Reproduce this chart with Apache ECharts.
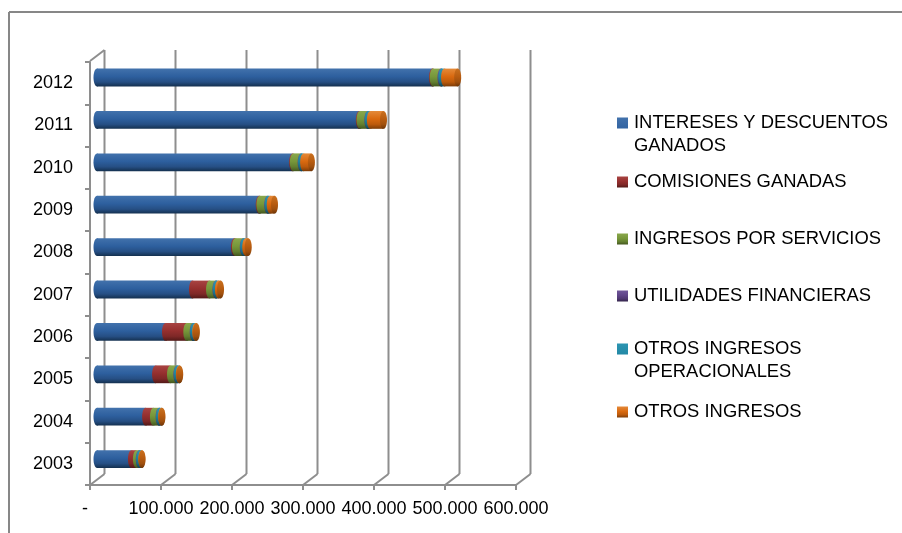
<!DOCTYPE html>
<html>
<head>
<meta charset="utf-8">
<style>html,body{margin:0;padding:0;background:#fff}#chart{width:902px;height:533px}</style>
<script src="https://cdn.jsdelivr.net/npm/echarts@6/dist/echarts.min.js"></script>
</head>
<body>
<div id="chart"></div>
<script>
// Data
const years = ['2003', '2004', '2005', '2006', '2007', '2008', '2009', '2010', '2011', '2012'];
const intereses = [48500, 68500, 82500, 96500, 134500, 193500, 228500, 275500, 369500, 472500];
const comisiones = [7000, 11000, 21000, 30000, 24000, 1500, 1000, 1000, 1000, 1000];
const servicios = [4000, 8000, 9000, 9000, 9000, 11000, 11000, 11000, 11000, 11000];
const utilidades = [500, 500, 500, 500, 500, 500, 500, 500, 500, 1000];
const operacionales = [3000, 3000, 3000, 3000, 3000, 3000, 3000, 3000, 3000, 4000];
const otros = [500, 500, 500, 1000, 3000, 3500, 6000, 11000, 18500, 18500];
const xTicks = [0, 100000, 200000, 300000, 400000, 500000, 600000];

const seriesNames = [
  'INTERESES Y DESCUENTOS\nGANADOS',
  'COMISIONES GANADAS',
  'INGRESOS POR SERVICIOS',
  'UTILIDADES FINANCIERAS',
  'OTROS INGRESOS\nOPERACIONALES',
  'OTROS INGRESOS'
];
const seriesValues = [intereses, comisiones, servicios, utilidades, operacionales, otros];

// Styles: top, middle, lower, bottom of each cylinder
const ramps = [
  ['#4272ac', '#2d5f9e', '#264f84', '#14304f'],
  ['#a84442', '#952f2e', '#7e2827', '#511917'],
  ['#8aa84c', '#77973a', '#637f30', '#43561f'],
  ['#70579a', '#5f4488', '#4f3871', '#33244a'],
  ['#2c95b2', '#1f83a0', '#1a6d86', '#104657'],
  ['#e48a3a', '#d9690f', '#bc5a0c', '#7c3c08']
];
const capRamp = ['#c9701f', '#b85c10', '#a0500e', '#6e3507'];
const legendTops = [111.5, 170.5, 227.5, 284.5, 337.5, 400.5];
const axisGrey = '#8e8e8e';
const font = '"Liberation Sans", Arial, sans-serif';
const depthX = 14.5;
const depthY = -11;
const capRx = 3.5;

const gradient = ramp => new echarts.graphic.LinearGradient(0, 0, 0, 1, [
  { offset: 0, color: ramp[0] },
  { offset: 0.45, color: ramp[1] },
  { offset: 0.75, color: ramp[2] },
  { offset: 1, color: ramp[3] }
]);

// Running start/end of every stacked segment
const running = years.map(() => 0);
const segments = seriesValues.map(values => values.map((v, i) => {
  const start = running[i];
  running[i] += v;
  return [start, running[i], i];
}));

const renderCylinder = (seriesIndex, params, api) => {
  const a = api.coord([api.value(0), api.value(2)]);
  const b = api.coord([api.value(1), api.value(2)]);
  const h = api.size([0, 1])[1] * 0.42;
  const top = a[1] - h / 2;
  const fill = gradient(ramps[seriesIndex]);
  const children = [
    { type: 'rect', shape: { x: a[0], y: top, width: b[0] - a[0], height: h }, style: { fill } },
    { type: 'ellipse', shape: { cx: a[0], cy: a[1], rx: capRx, ry: h / 2 }, style: { fill } }
  ];
  if (seriesIndex === seriesValues.length - 1) {
    children.push({
      type: 'ellipse',
      shape: { cx: b[0], cy: a[1], rx: capRx, ry: h / 2 },
      style: { fill: gradient(capRamp) }
    });
  }
  return { type: 'group', children };
};

// Back wall lines and the floor diagonals
const renderWall = (params, api) => {
  const low = api.coord([api.value(0), 0]);
  const high = api.coord([api.value(0), 1]);
  const style = { stroke: axisGrey, lineWidth: 2 };
  const children = [
    { type: 'line', shape: { x1: low[0], y1: low[1], x2: high[0], y2: high[1] }, style },
    { type: 'line', shape: { x1: low[0], y1: low[1], x2: low[0] - depthX, y2: low[1] - depthY }, style }
  ];
  if (params.dataIndex === 0) {
    children.push({ type: 'line', shape: { x1: high[0], y1: high[1], x2: high[0] - depthX, y2: high[1] - depthY }, style });
  }
  return { type: 'group', children };
};

const chart = echarts.init(document.getElementById('chart'), null, { renderer: 'canvas' });

chart.setOption({
  animation: false,
  backgroundColor: '#ffffff',
  textStyle: { fontFamily: font },
  grid: [
    { left: 90, top: 62, width: 426, height: 423 },   // front plane, carries the labels
    { left: 104.5, top: 50, width: 426, height: 424 }, // back wall
    { left: 97, top: 56.3, width: 426, height: 424 }   // plane of the cylinders
  ],
  xAxis: [
    {
      gridIndex: 0, type: 'value', min: 0, max: 600000, interval: 100000,
      splitLine: { show: false },
      axisLine: { show: true, lineStyle: { color: axisGrey, width: 2 } },
      axisTick: { show: true, length: 5, lineStyle: { color: axisGrey, width: 2 } },
      axisLabel: {
        color: '#000', fontSize: 18, fontFamily: font, margin: 15,
        hideOverlap: false, showMinLabel: true, showMaxLabel: true,
        formatter: v => (v === 0 ? '-\u00a0\u00a0' : String(v / 1000) + '.000')
      }
    },
    { gridIndex: 1, type: 'value', min: 0, max: 600000, interval: 100000, show: false, splitLine: { show: false } },
    { gridIndex: 2, type: 'value', min: 0, max: 600000, interval: 100000, show: false, splitLine: { show: false } }
  ],
  yAxis: [
    {
      gridIndex: 0, type: 'category', data: years,
      axisLine: { show: true, onZero: false, lineStyle: { color: axisGrey, width: 2 } },
      axisTick: { show: true, length: 5, lineStyle: { color: axisGrey, width: 2 } },
      axisLabel: { color: '#000', fontSize: 18, fontFamily: font, margin: 17, padding: [2, 0, 0, 0] }
    },
    { gridIndex: 1, type: 'value', min: 0, max: 1, show: false, splitLine: { show: false } },
    { gridIndex: 2, type: 'category', data: years, show: false }
  ],
  legend: seriesNames.map((name, i) => {
    const twoLines = name.includes('\n');
    return {
      data: [name],
      orient: 'vertical',
      left: 617,
      top: legendTops[i],
      padding: 0,
      itemGap: 0,
      itemWidth: 11,
      itemHeight: twoLines ? 34 : 11,
      // the second subpath has no area: it keeps the square level with the first text line
      icon: twoLines ? 'path://M0 0H11V11H0Z M0 34H11' : 'rect',
      selectedMode: false,
      textStyle: { color: '#000', fontSize: 18.4, fontFamily: font, lineHeight: 23, padding: [0, 0, 0, 1] }
    };
  }),
  graphic: [
    { type: 'line', z: 0, shape: { x1: 9, y1: 12, x2: 902, y2: 12 }, style: { stroke: '#878787', lineWidth: 2 } },
    { type: 'line', z: 0, shape: { x1: 9, y1: 12, x2: 9, y2: 533 }, style: { stroke: '#878787', lineWidth: 2 } }
  ],
  series: [
    {
      type: 'custom',
      name: 'wall',
      xAxisIndex: 1,
      yAxisIndex: 1,
      z: 1,
      silent: true,
      renderItem: renderWall,
      encode: { x: 0 },
      data: xTicks.map(v => [v])
    },
    ...seriesNames.map((name, i) => ({
      type: 'custom',
      name,
      xAxisIndex: 2,
      yAxisIndex: 2,
      z: 3 + i,
      itemStyle: { color: gradient(ramps[i]) },
      renderItem: (params, api) => renderCylinder(i, params, api),
      encode: { x: [0, 1], y: 2 },
      data: segments[i]
    }))
  ]
});
</script>
</body>
</html>
